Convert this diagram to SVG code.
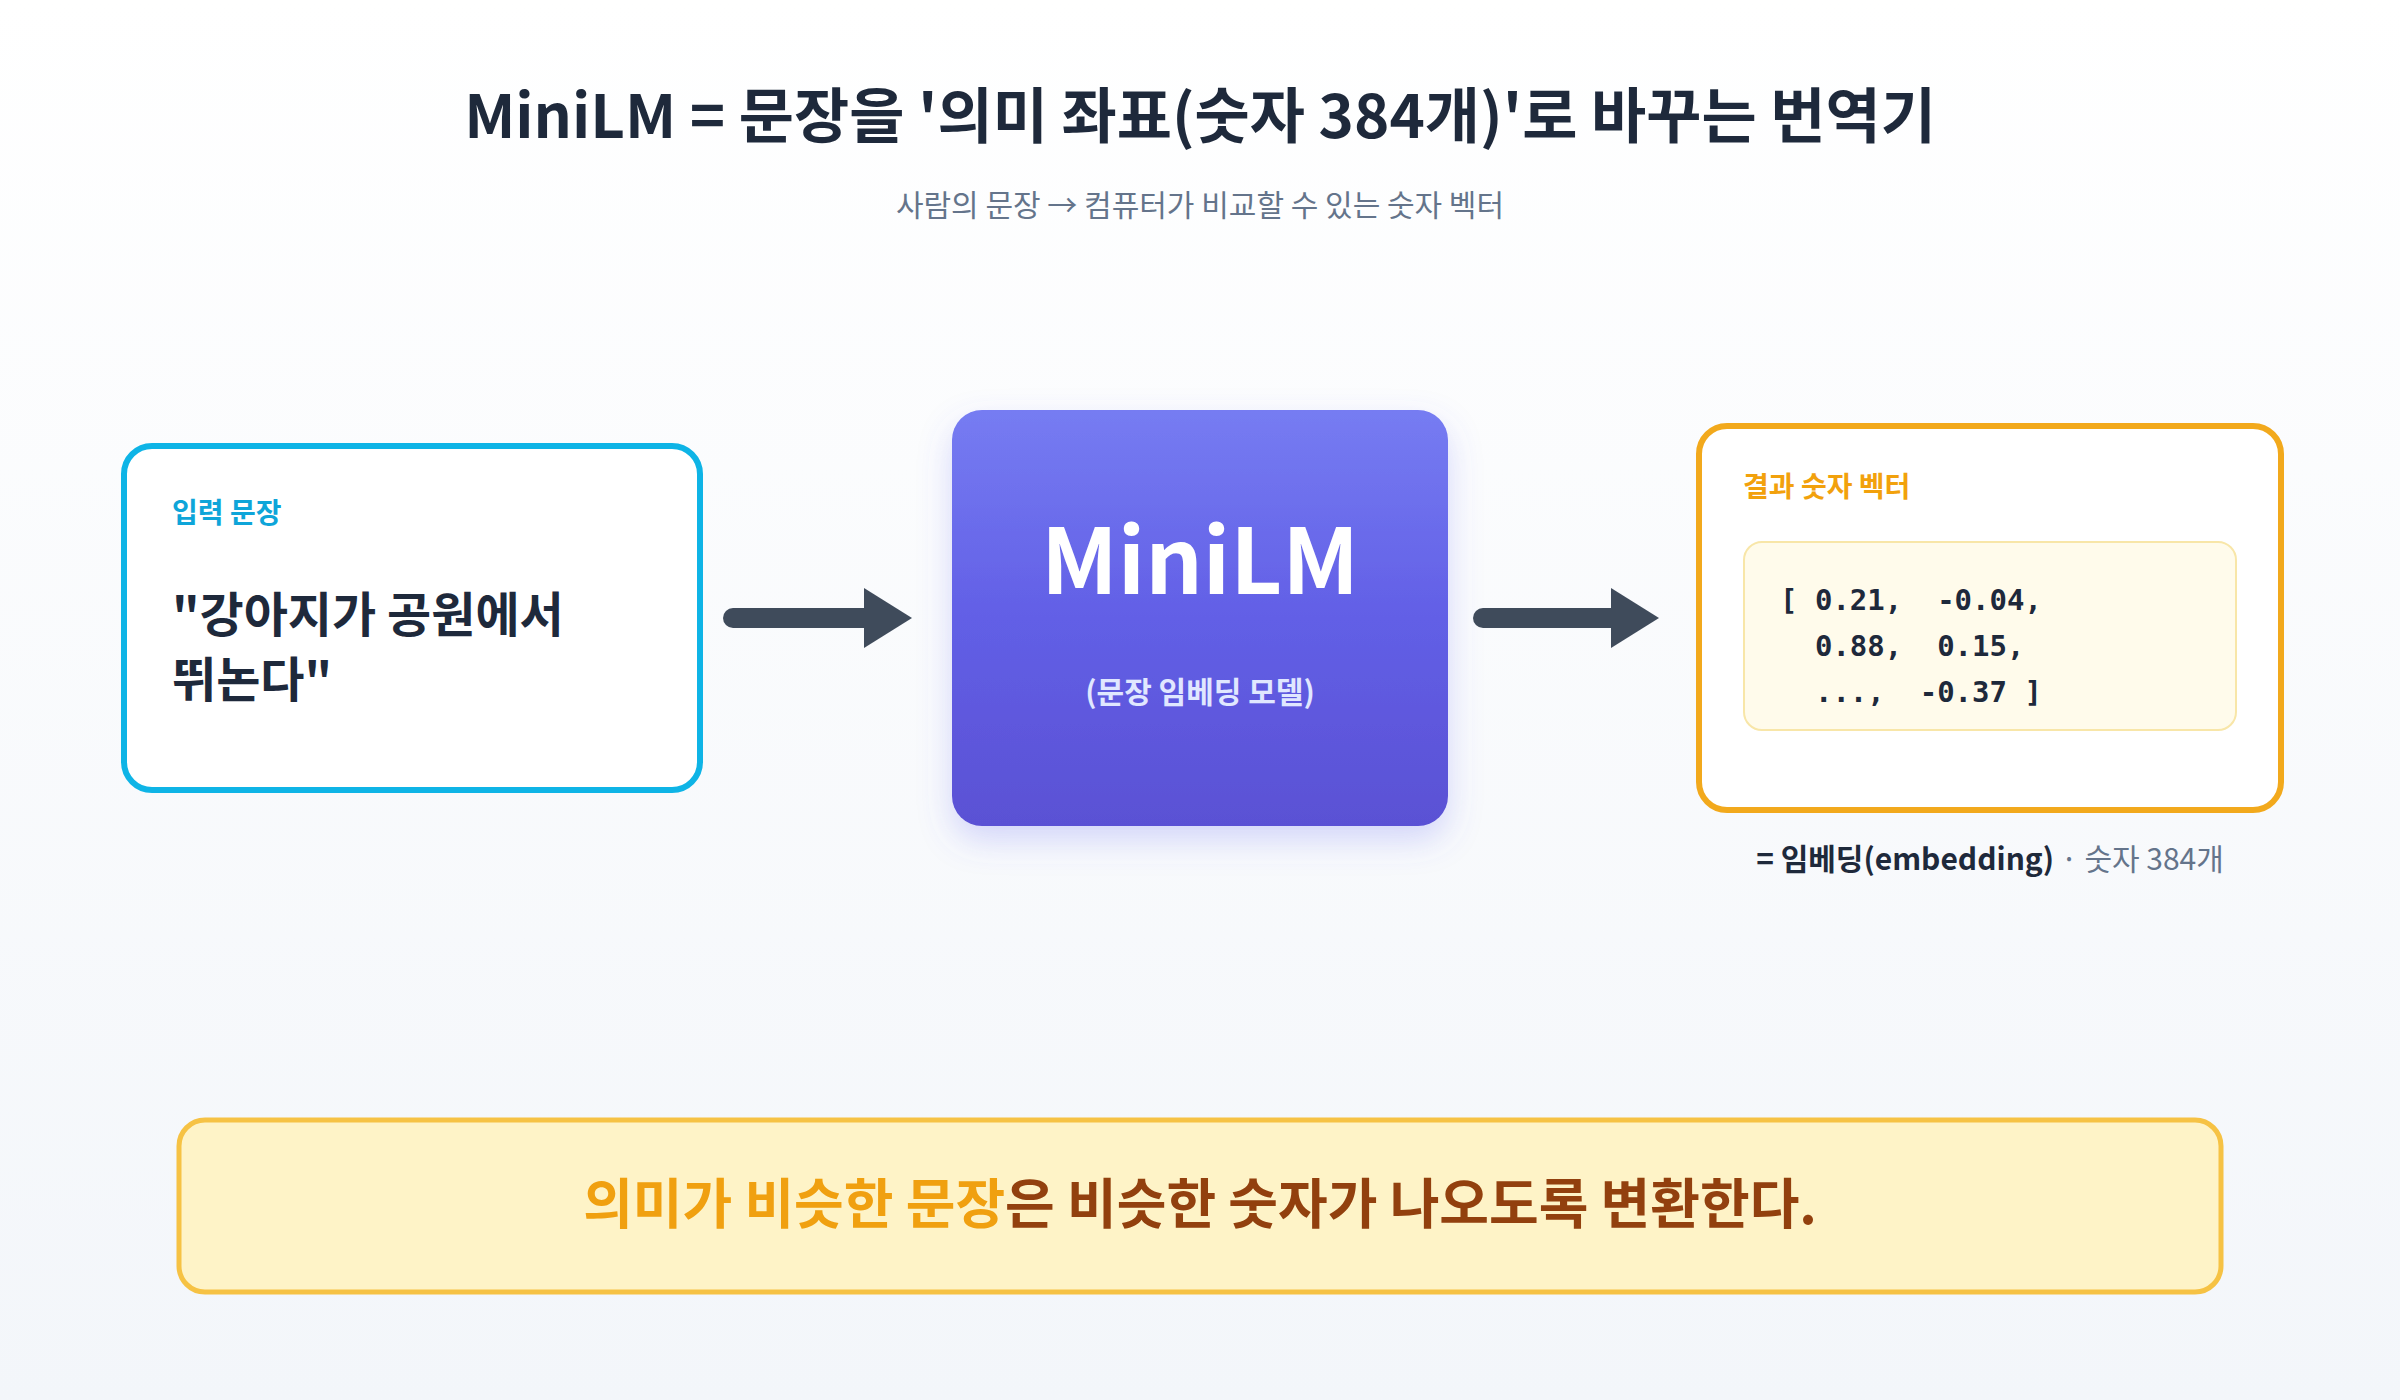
<svg xmlns="http://www.w3.org/2000/svg" width="2400" height="1400" viewBox="0 0 2400 1400">
<defs>
<linearGradient id="bg" x1="0" y1="0" x2="0" y2="1"><stop offset="0" stop-color="#FFFFFF"/><stop offset="1" stop-color="#F3F6FA"/></linearGradient>
<linearGradient id="core" x1="0" y1="0" x2="0" y2="1"><stop offset="0" stop-color="#767CF2"/><stop offset="0.5" stop-color="#625FE6"/><stop offset="1" stop-color="#5A51D4"/></linearGradient>
<filter id="sh" x="-20%" y="-20%" width="140%" height="150%"><feDropShadow dx="0" dy="14" stdDeviation="16" flood-color="#6366F1" flood-opacity="0.25"/></filter>
<marker id="ah" markerWidth="3" markerHeight="3" refX="0.2" refY="1.5" orient="auto" markerUnits="strokeWidth"><path d="M0,0 L2.4,1.5 L0,3 z" fill="#3F4B5B"/></marker>
<style>
text{font-family:"Noto Sans CJK KR","Noto Sans",sans-serif}
.b{font-weight:700}
.mono{font-family:"DejaVu Sans Mono","Liberation Mono",monospace;font-weight:700;font-size:29px;fill:#1E293B}
.conn{stroke:#3F4B5B;stroke-width:20;stroke-linecap:round;fill:none}
</style>
</defs>
<rect width="2400" height="1400" fill="url(#bg)"/>
<text x="1200" y="138" text-anchor="middle" class="b" font-size="60" fill="#1E293B">MiniLM = 문장을 '의미 좌표(숫자 384개)'로 바꾸는 번역기</text>
<text x="1200" y="216" text-anchor="middle" font-size="30" fill="#64748B">사람의 문장 → 컴퓨터가 비교할 수 있는 숫자 벡터</text>
<g id="input">
<rect x="124" y="446" width="576" height="344" rx="28" fill="#FFFFFF" stroke="#0EB4E6" stroke-width="6"/>
<text x="172" y="523" class="b" font-size="28" fill="#0EA5D9">입력 문장</text>
<text x="172" y="632" class="b" font-size="48" fill="#1E293B">"강아지가 공원에서</text>
<text x="172" y="697" class="b" font-size="48" fill="#1E293B">뛰논다"</text>
</g>
<g id="model">
<rect x="952" y="410" width="496" height="416" rx="30" fill="url(#core)" filter="url(#sh)"/>
<text x="1200" y="594" text-anchor="middle" class="b" font-size="90" fill="#FFFFFF">MiniLM</text>
<text x="1200" y="703" text-anchor="middle" class="b" font-size="30" fill="#E0E7FF">(문장 임베딩 모델)</text>
</g>
<g id="output">
<rect x="1699" y="426" width="582" height="384" rx="28" fill="#FFFFFF" stroke="#F2A91C" stroke-width="6"/>
<text x="1743" y="497" class="b" font-size="28" fill="#F2A10C">결과 숫자 벡터</text>
<rect x="1744" y="542" width="492" height="188" rx="18" fill="#FFFBEB" stroke="#F8E6A8" stroke-width="2"/>
<text x="1780" y="610" class="mono" xml:space="preserve">[ 0.21,  -0.04,</text>
<text x="1780" y="656" class="mono" xml:space="preserve">  0.88,  0.15,</text>
<text x="1780" y="702" class="mono" xml:space="preserve">  ...,  -0.37 ]</text>
<text x="1990" y="870" text-anchor="middle" font-size="30"><tspan class="b" fill="#1E293B">= 임베딩(embedding)</tspan><tspan fill="#64748B"> · 숫자 384개</tspan></text>
</g>
<g id="connectors">
<line class="conn" x1="733" y1="618" x2="868" y2="618" marker-end="url(#ah)"/>
<line class="conn" x1="1483" y1="618" x2="1615" y2="618" marker-end="url(#ah)"/>
</g>
<g id="note">
<rect x="179" y="1120" width="2042" height="172" rx="26" fill="#FEF3C7" stroke="#F6C244" stroke-width="5"/>
<text x="1200" y="1224" text-anchor="middle" class="b" font-size="54"><tspan fill="#F0A010">의미가 비슷한 문장</tspan><tspan fill="#92400E">은 비슷한 숫자가 나오도록 변환한다.</tspan></text>
</g>
</svg>
